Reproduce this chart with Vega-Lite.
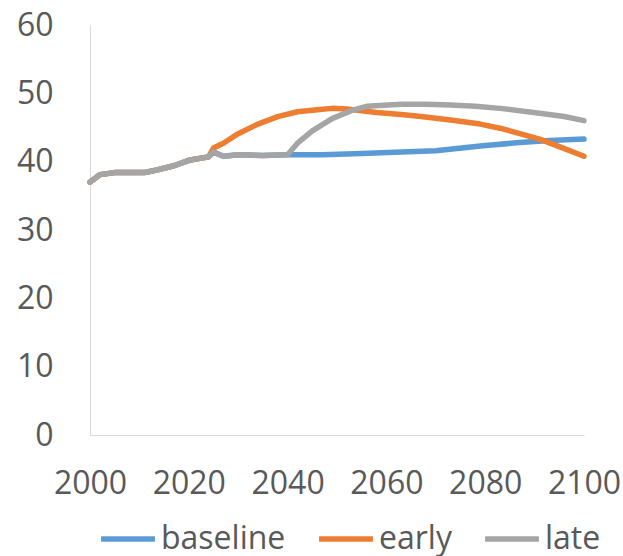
{
  "$schema": "https://vega.github.io/schema/vega-lite/v6.json",
  "width": 494,
  "height": 410,
  "autosize": "none",
  "padding": {"left": 90, "top": 25, "right": 39, "bottom": 121},
  "background": "white",
  "config": {
    "view": {"stroke": null},
    "font": "Open Sans",
    "axis": {"grid": false, "ticks": false, "domainColor": "#d9d9d9", "domainWidth": 1, "labelColor": "#595959", "labelFontSize": 32, "labelFont": "Open Sans", "title": null}
  },
  "data": {"values": [
    {"scenario":"baseline","year":2000,"value":37.0},
    {"scenario":"baseline","year":2002,"value":38.1},
    {"scenario":"baseline","year":2005,"value":38.4},
    {"scenario":"baseline","year":2011,"value":38.4},
    {"scenario":"baseline","year":2013,"value":38.7},
    {"scenario":"baseline","year":2017,"value":39.4},
    {"scenario":"baseline","year":2020,"value":40.2},
    {"scenario":"baseline","year":2024,"value":40.7},
    {"scenario":"baseline","year":2025,"value":41.4},
    {"scenario":"baseline","year":2027,"value":40.8},
    {"scenario":"baseline","year":2030,"value":41.0},
    {"scenario":"baseline","year":2035,"value":40.9},
    {"scenario":"baseline","year":2040,"value":41.0},
    {"scenario":"baseline","year":2047,"value":41.0},
    {"scenario":"baseline","year":2055,"value":41.2},
    {"scenario":"baseline","year":2063,"value":41.4},
    {"scenario":"baseline","year":2070,"value":41.6},
    {"scenario":"baseline","year":2079,"value":42.3},
    {"scenario":"baseline","year":2087,"value":42.8},
    {"scenario":"baseline","year":2093,"value":43.1},
    {"scenario":"baseline","year":2100,"value":43.3},
    {"scenario":"early","year":2000,"value":37.0},
    {"scenario":"early","year":2002,"value":38.1},
    {"scenario":"early","year":2005,"value":38.4},
    {"scenario":"early","year":2011,"value":38.4},
    {"scenario":"early","year":2013,"value":38.7},
    {"scenario":"early","year":2017,"value":39.4},
    {"scenario":"early","year":2020,"value":40.2},
    {"scenario":"early","year":2024,"value":40.7},
    {"scenario":"early","year":2025,"value":42.0},
    {"scenario":"early","year":2027,"value":42.7},
    {"scenario":"early","year":2030,"value":44.1},
    {"scenario":"early","year":2034,"value":45.5},
    {"scenario":"early","year":2038,"value":46.6},
    {"scenario":"early","year":2042,"value":47.3},
    {"scenario":"early","year":2046,"value":47.6},
    {"scenario":"early","year":2049,"value":47.8},
    {"scenario":"early","year":2052,"value":47.7},
    {"scenario":"early","year":2058,"value":47.2},
    {"scenario":"early","year":2063,"value":46.9},
    {"scenario":"early","year":2067,"value":46.6},
    {"scenario":"early","year":2073,"value":46.1},
    {"scenario":"early","year":2079,"value":45.5},
    {"scenario":"early","year":2083,"value":44.9},
    {"scenario":"early","year":2087,"value":44.1},
    {"scenario":"early","year":2091,"value":43.3},
    {"scenario":"early","year":2095,"value":42.2},
    {"scenario":"early","year":2100,"value":40.8},
    {"scenario":"late","year":2000,"value":37.0},
    {"scenario":"late","year":2002,"value":38.1},
    {"scenario":"late","year":2005,"value":38.4},
    {"scenario":"late","year":2011,"value":38.4},
    {"scenario":"late","year":2013,"value":38.7},
    {"scenario":"late","year":2017,"value":39.4},
    {"scenario":"late","year":2020,"value":40.2},
    {"scenario":"late","year":2024,"value":40.7},
    {"scenario":"late","year":2025,"value":41.4},
    {"scenario":"late","year":2027,"value":40.8},
    {"scenario":"late","year":2030,"value":41.0},
    {"scenario":"late","year":2035,"value":40.9},
    {"scenario":"late","year":2040,"value":41.0},
    {"scenario":"late","year":2042,"value":42.7},
    {"scenario":"late","year":2045,"value":44.5},
    {"scenario":"late","year":2049,"value":46.3},
    {"scenario":"late","year":2053,"value":47.5},
    {"scenario":"late","year":2056,"value":48.1},
    {"scenario":"late","year":2063,"value":48.4},
    {"scenario":"late","year":2068,"value":48.4},
    {"scenario":"late","year":2073,"value":48.3},
    {"scenario":"late","year":2078,"value":48.1},
    {"scenario":"late","year":2083,"value":47.8},
    {"scenario":"late","year":2091,"value":47.1},
    {"scenario":"late","year":2096,"value":46.6},
    {"scenario":"late","year":2100,"value":46.0}
  ]},
  "mark": {"type": "line", "strokeWidth": 5.5, "strokeCap": "round", "strokeJoin": "round"},
  "encoding": {
    "x": {"field": "year", "type": "quantitative", "scale": {"domain": [2000, 2100], "nice": false, "zero": false},
      "axis": {"values": [2000, 2020, 2040, 2060, 2080, 2100], "format": "d", "labelPadding": 33, "labelFlush": false, "labelOverlap": false}},
    "y": {"field": "value", "type": "quantitative", "scale": {"domain": [0, 60], "nice": false},
      "axis": {"values": [0, 10, 20, 30, 40, 50, 60], "labelPadding": 37}},
    "color": {"field": "scenario", "type": "nominal",
      "scale": {"domain": ["baseline", "early", "late"], "range": ["#5B9BD5", "#ED7D31", "#A5A5A5"]},
      "legend": {"title": null, "orient": "none", "legendX": 8, "legendY": 484, "direction": "horizontal",
        "symbolType": "stroke", "symbolSize": 2900, "symbolStrokeWidth": 5.5, "labelFontSize": 32, "labelColor": "#595959",
        "labelFont": "Open Sans", "labelOffset": 3, "columnPadding": 22}},
    "order": {"field": "scenario"}
  }
}
